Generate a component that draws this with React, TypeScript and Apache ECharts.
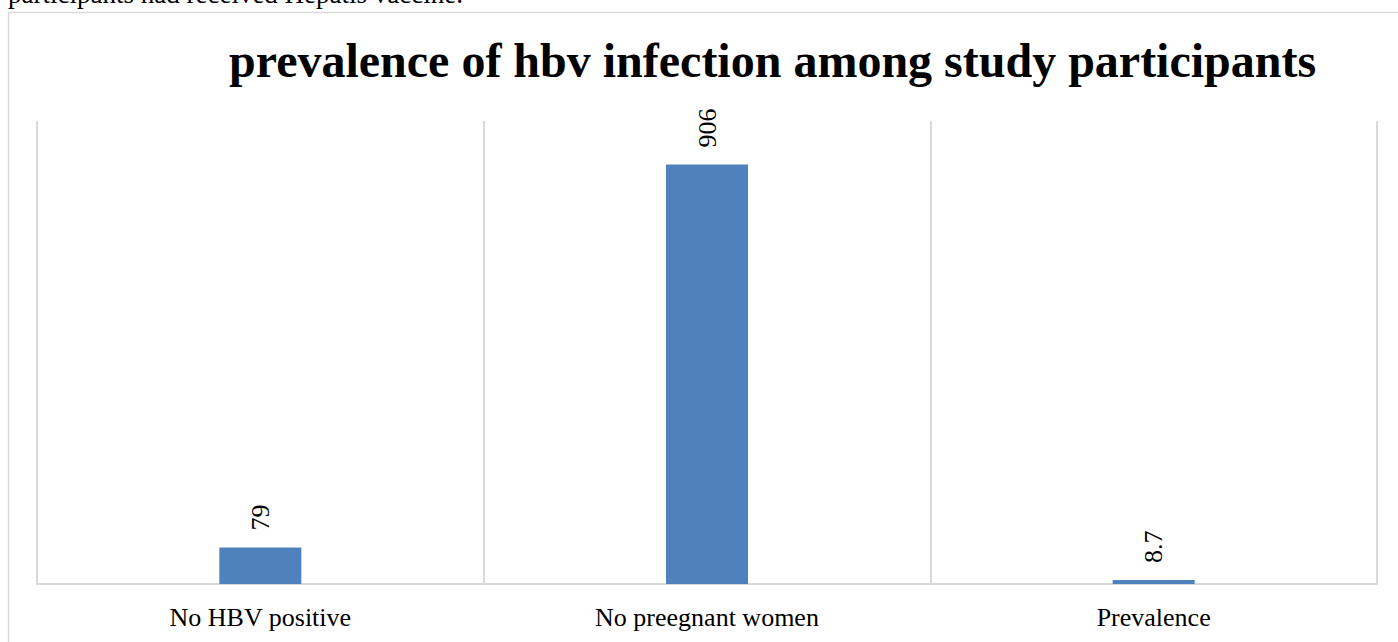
import React, { useEffect, useRef } from "react";
import * as echarts from "echarts";

const categories = ["No HBV positive", "No preegnant women", "Prevalence"];
const values = [79, 906, 8.7];
const titleText = "prevalence of hbv infection among study participants";
const pageText = "participants had received Hepatis vaccine.";

const serif = "'Liberation Serif', 'Times New Roman', serif";

export default function App() {
  const ref = useRef<HTMLDivElement>(null);
  useEffect(() => {
    if (!ref.current) return;
    const chart = echarts.init(ref.current, null, { renderer: "svg" });
    chart.setOption({
      animation: false,
      backgroundColor: "#ffffff",
      title: {
        text: titleText,
        left: 229,
        top: 36,
        padding: 0,
        textStyle: { fontFamily: serif, fontSize: 48, fontWeight: "bold", color: "#000000" },
      },
      graphic: [
        {
          type: "text",
          left: 8,
          top: -20,
          style: { text: pageText, font: `27px ${serif}`, fill: "#000000" },
        },
        {
          type: "rect",
          shape: { x: 8.5, y: 12.5, width: 1420, height: 700 },
          style: { fill: "none", stroke: "#d9d9d9", lineWidth: 1.5 },
          z: -1,
        },
      ],
      grid: { left: 37, right: 21, top: 121, bottom: 58, containLabel: false },
      xAxis: {
        type: "category",
        data: categories,
        axisLine: { lineStyle: { color: "#d9d9d9", width: 2 } },
        axisTick: { show: false },
        splitLine: { show: true, lineStyle: { color: "#d9d9d9", width: 2 } },
        axisLabel: { margin: 20, fontFamily: serif, fontSize: 26, color: "#000000" },
      },
      yAxis: {
        type: "value",
        min: 0,
        max: 1000,
        show: false,
        splitLine: { show: false },
      },
      series: [
        {
          type: "bar",
          data: values,
          barWidth: 82,
          itemStyle: { color: "#4f81bd" },
          label: {
            show: true,
            position: "top",
            rotate: 90,
            align: "left",
            verticalAlign: "middle",
            distance: 17,
            fontFamily: serif,
            fontSize: 26,
            color: "#000000",
          },
        },
      ],
    });
    return () => chart.dispose();
  }, []);
  return (
    <div
      ref={ref}
      style={{ position: "fixed", left: 0, top: 0, width: 1398, height: 642 }}
    />
  );
}
